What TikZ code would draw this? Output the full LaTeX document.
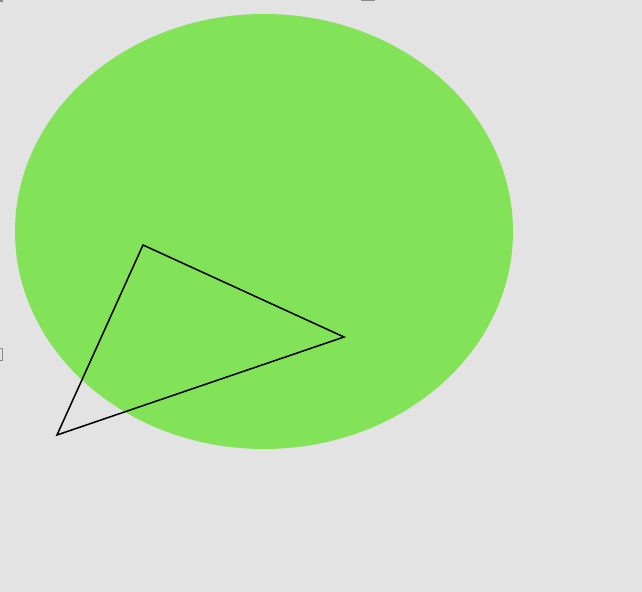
\documentclass[tikz,border=0pt]{standalone}
\usepackage{xcolor}
\usepackage{tikz}
\definecolor{bgGray}{HTML}{E3E3E3}
\definecolor{blobGreen}{HTML}{82E258}
\definecolor{markGray}{HTML}{8A8A8A}

\begin{document}
\begin{tikzpicture}[x=0.03cm,y=-0.03cm,line join=miter]
\fill[bgGray] (0,0) rectangle (642,592);
\useasboundingbox (0,0) rectangle (642,592);
% green blob
\fill[blobGreen] (264,231.5) ellipse[x radius=249,y radius=217.5];
% small marks at the edges
\fill[markGray] (0,0) rectangle (3,2);
\fill[markGray] (361,0) rectangle (375,1.5);
\draw[markGray,line width=0.8pt] (-2,348.5) rectangle (2.5,360);
% triangle
\coordinate (top) at (143,245);
\coordinate (right) at (344,337);
\coordinate (low) at (57,435);
\draw[line width=1.3pt] (top) -- (right) -- (low) -- cycle;
\end{tikzpicture}
\end{document}
